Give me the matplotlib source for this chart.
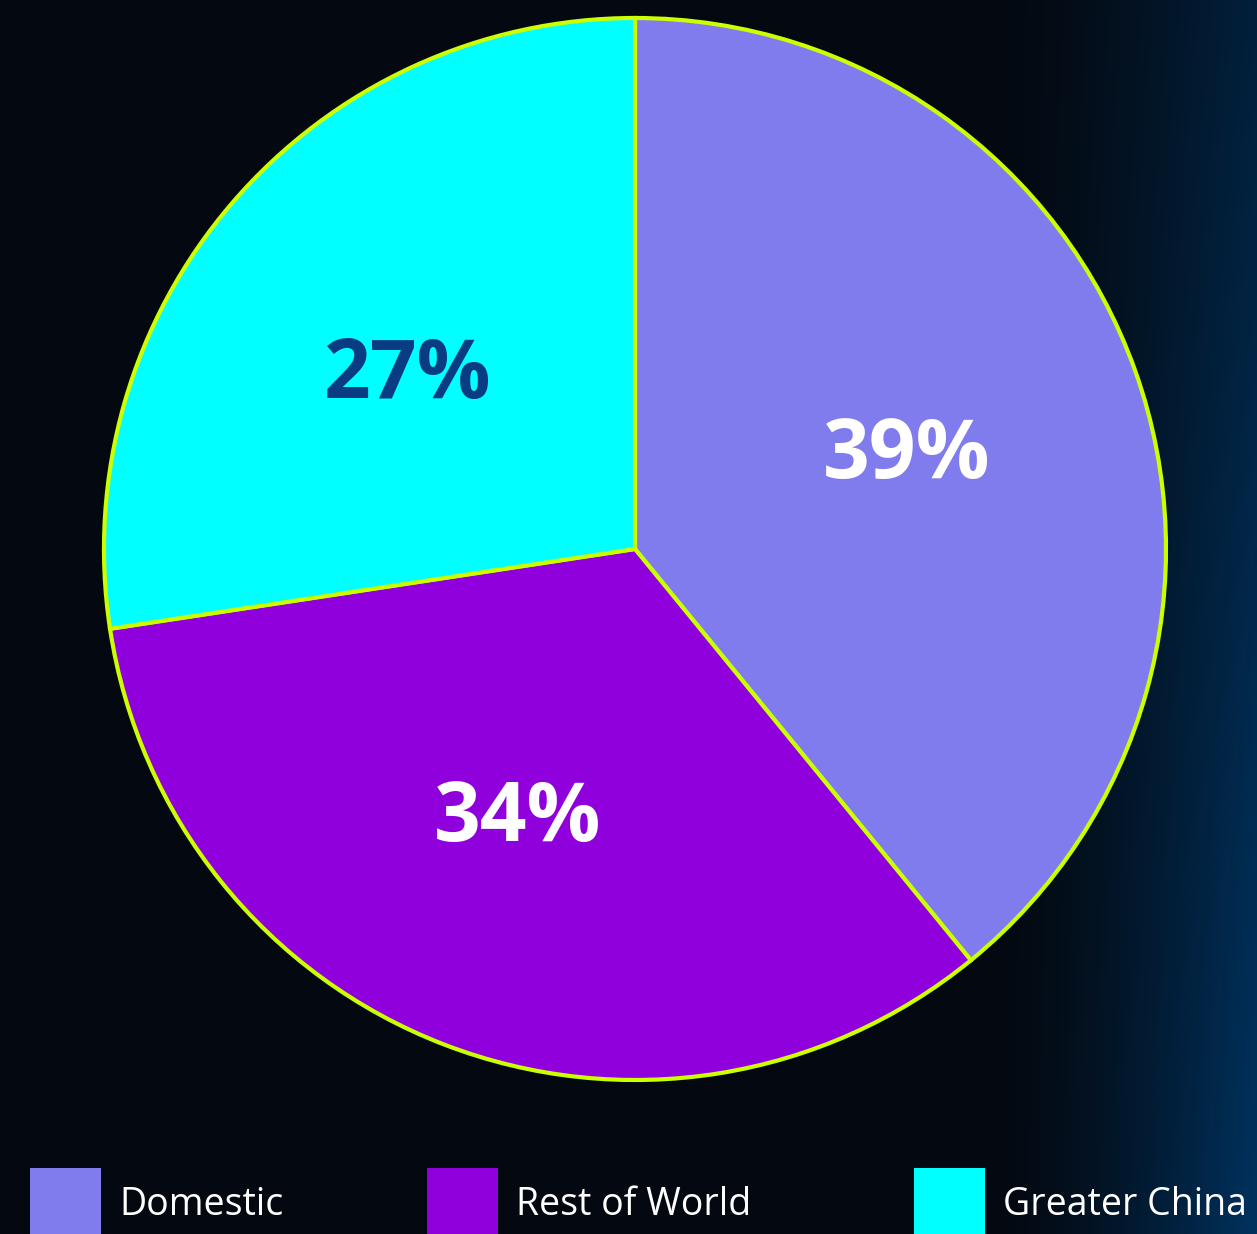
import numpy as np
import matplotlib
matplotlib.use("Agg")
import matplotlib.pyplot as plt
from matplotlib.patches import Rectangle

categories = ["Domestic", "Rest of World", "Greater China"]
values = [39.1, 33.5, 27.4]
pct_labels = ["39%", "34%", "27%"]
colors = ["#807cee", "#9000dc", "#00ffff"]
label_colors = ["#ffffff", "#ffffff", "#0a3c84"]
label_angle_adjust = [0.3, -2.8, 2.6]

W, H = 1257, 1234
fig = plt.figure(figsize=(W / 100, H / 100), dpi=100)

# background
bg = fig.add_axes([0, 0, 1, 1])
bg.set_axis_off()
xx, yy = np.meshgrid(np.linspace(0, 1, 400), np.linspace(0, 1, 400))
xs = xx * W
ys = yy * H
blue = np.clip((xs - 1000) / 257, 0, 1) ** 1.4 * (0.55 + 0.45 * np.clip(ys / H, 0, 1))
base = np.array([4, 9, 17]) / 255
glow = np.array([0, 50, 94]) / 255
img = base[None, None, :] * (1 - blue[..., None]) + glow[None, None, :] * blue[..., None]
bg.imshow(img, extent=[0, W, H, 0], aspect="auto", interpolation="bilinear")
bg.set_xlim(0, W)
bg.set_ylim(H, 0)

ax = fig.add_axes([0, 0, 1, 1])
ax.set_axis_off()
ax.patch.set_alpha(0)

cx, cy, R = 635, H - 549, 531
wedges, _ = ax.pie(
    values, colors=colors, startangle=90, counterclock=False,
    center=(cx, cy), radius=R, frame=True,
    wedgeprops=dict(edgecolor="#ccff00", linewidth=3.0),
)
ax.set_xlim(0, W)
ax.set_ylim(0, H)
ax.set_aspect("equal")
ax.set_axis_off()

for w, lab, c, adj in zip(wedges, pct_labels, label_colors, label_angle_adjust):
    ang = np.deg2rad((w.theta1 + w.theta2) / 2 + adj)
    d = 0.545 * R
    ax.text(cx + d * np.cos(ang), cy + d * np.sin(ang) - 6, lab, color=c,
            fontsize=59, fontweight="bold", family=["Open Sans", "DejaVu Sans"],
            ha="center", va="center")

# legend
box_x = [30, 427, 914]
for x0, lab, col in zip(box_x, categories, colors):
    ax.add_patch(Rectangle((x0, H - 1234 - 10), 71, 76, facecolor=col, edgecolor="none", clip_on=False))
    ax.text(x0 + 89, H - 1205, lab, color="white", fontsize=27, fontweight="normal",
            family=["Open Sans", "DejaVu Sans"], va="center", ha="left")

fig.savefig("out.png", dpi=100)
